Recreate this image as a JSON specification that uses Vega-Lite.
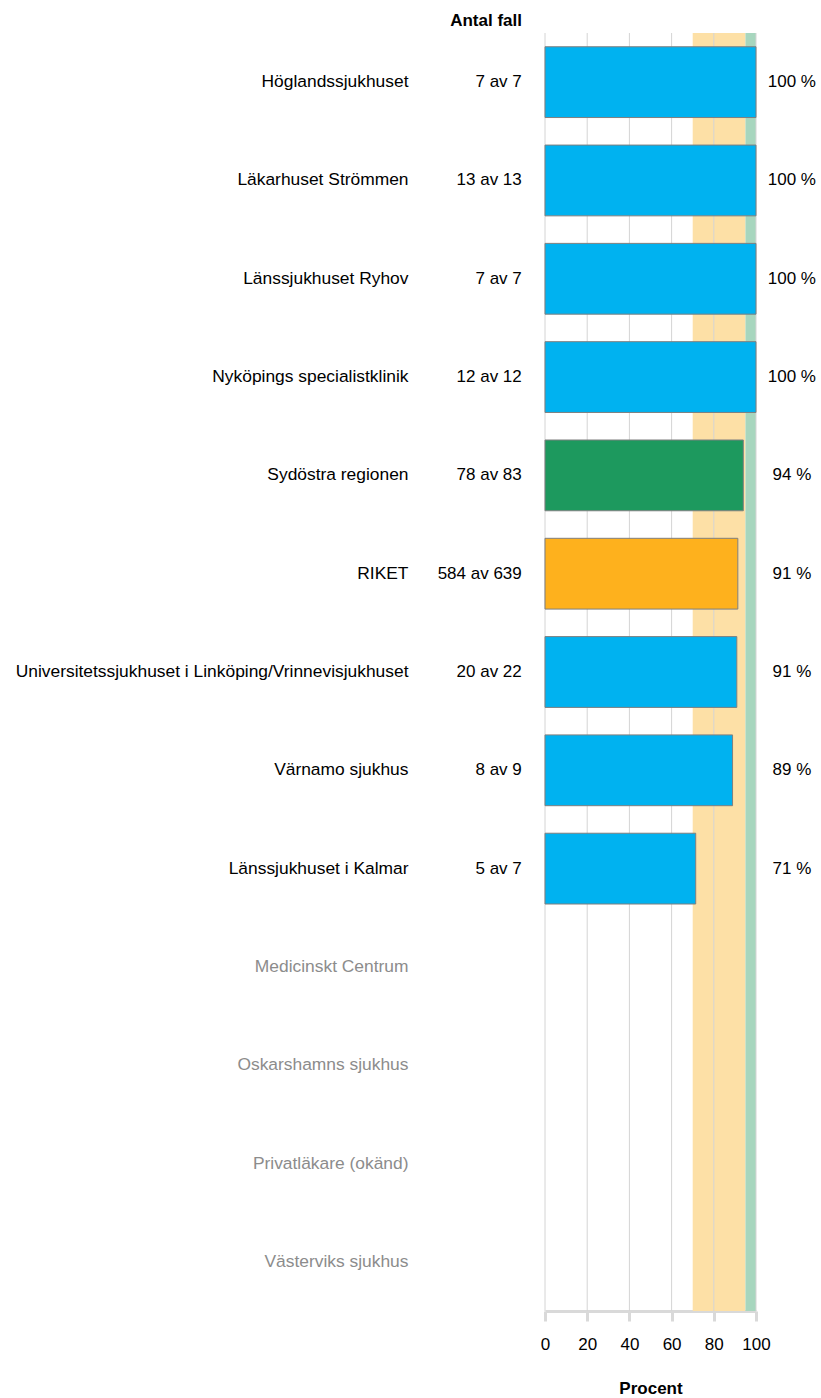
{
  "$schema": "https://vega.github.io/schema/vega-lite/v6.json",
  "autosize": {"type": "none"},
  "width": 211,
  "height": 1278,
  "padding": {"left": 545, "top": 33, "right": 65, "bottom": 87},
  "config": {
    "font": "Liberation Sans",
    "view": {"stroke": null},
    "text": {"font": "Liberation Sans", "fontSize": 17, "fill": "#000"}
  },
  "data": {
    "values": [
      {"enhet": "Höglandssjukhuset", "typ": "enhet", "andel": 100, "antal": "7 av 7", "andel_text": "100 %"},
      {"enhet": "Läkarhuset Strömmen", "typ": "enhet", "andel": 100, "antal": "13 av 13", "andel_text": "100 %"},
      {"enhet": "Länssjukhuset Ryhov", "typ": "enhet", "andel": 100, "antal": "7 av 7", "andel_text": "100 %"},
      {"enhet": "Nyköpings specialistklinik", "typ": "enhet", "andel": 100, "antal": "12 av 12", "andel_text": "100 %"},
      {"enhet": "Sydöstra regionen", "typ": "region", "andel": 93.98, "antal": "78 av 83", "andel_text": "94 %"},
      {"enhet": "RIKET", "typ": "riket", "andel": 91.39, "antal": "584 av 639", "andel_text": "91 %"},
      {"enhet": "Universitetssjukhuset i Linköping/Vrinnevisjukhuset", "typ": "enhet", "andel": 90.91, "antal": "20 av 22", "andel_text": "91 %"},
      {"enhet": "Värnamo sjukhus", "typ": "enhet", "andel": 88.89, "antal": "8 av 9", "andel_text": "89 %"},
      {"enhet": "Länssjukhuset i Kalmar", "typ": "enhet", "andel": 71.43, "antal": "5 av 7", "andel_text": "71 %"},
      {"enhet": "Medicinskt Centrum", "typ": "tom", "andel": null, "antal": "", "andel_text": ""},
      {"enhet": "Oskarshamns sjukhus", "typ": "tom", "andel": null, "antal": "", "andel_text": ""},
      {"enhet": "Privatläkare (okänd)", "typ": "tom", "andel": null, "antal": "", "andel_text": ""},
      {"enhet": "Västerviks sjukhus", "typ": "tom", "andel": null, "antal": "", "andel_text": ""}
    ]
  },
  "resolve": {"scale": {"color": "independent"}},
  "layer": [
    {
      "data": {"values": [
        {"fran": 70, "till": 95, "niva": "mellan"},
        {"fran": 95, "till": 100, "niva": "hog"}
      ]},
      "mark": {"type": "rect"},
      "encoding": {
        "x": {"field": "fran", "type": "quantitative", "scale": {"domain": [0, 100], "nice": false}},
        "x2": {"field": "till"},
        "color": {"field": "niva", "type": "nominal", "legend": null,
          "scale": {"domain": ["mellan", "hog"], "range": ["#fde0a6", "#a7d6be"]}}
      }
    },
    {
      "data": {"values": [{"v": 0}, {"v": 20}, {"v": 40}, {"v": 60}, {"v": 80}, {"v": 100}]},
      "mark": {"type": "rule", "stroke": "#d4d4d4", "strokeWidth": 1},
      "encoding": {
        "x": {"field": "v", "type": "quantitative"}
      }
    },
    {
      "mark": {"type": "bar", "stroke": "#7f7f7f", "strokeWidth": 1},
      "encoding": {
        "y": {"field": "enhet", "type": "nominal", "sort": null,
          "scale": {"paddingInner": 0.28, "paddingOuter": 0.14},
          "axis": {
            "domain": false, "ticks": false, "grid": false,
            "labelPadding": 137, "labelFontSize": 17.4, "labelLimit": 600,
            "labelFont": "Liberation Sans",
            "labelColor": {"condition": {"test": "indexof(['Medicinskt Centrum','Oskarshamns sjukhus','Privatläkare (okänd)','Västerviks sjukhus'], datum.value) >= 0", "value": "#8c8c8c"}, "value": "#000000"},
            "title": "Antal fall", "titleAngle": 0, "titleAlign": "right", "titleBaseline": "alphabetic",
            "titleX": -23.5, "titleY": -8, "titleFontSize": 17, "titleFontWeight": "bold",
            "titleFont": "Liberation Sans", "titleColor": "#000"
          }
        },
        "x": {"field": "andel", "type": "quantitative",
          "scale": {"domain": [0, 100], "nice": false},
          "axis": {
            "values": [0, 20, 40, 60, 80, 100], "grid": false,
            "labelFlush": false, "labelOverlap": false, "labelBound": false,
            "domainColor": "#d9d9d9", "domainWidth": 3,
            "tickColor": "#d9d9d9", "tickWidth": 3, "tickSize": 10,
            "labelFontSize": 17, "labelColor": "#000", "labelFont": "Liberation Sans",
            "labelBaseline": "alphabetic", "labelPadding": 28.5,
            "title": "Procent", "titleFontSize": 17, "titleFontWeight": "bold", "titleColor": "#000",
            "titleFont": "Liberation Sans", "titleBaseline": "alphabetic", "titleY": 82, "titleX": 105.5
          }
        },
        "color": {"field": "typ", "type": "nominal", "legend": null,
          "scale": {"domain": ["enhet", "region", "riket"], "range": ["#00b2f0", "#1d995e", "#feb11d"]}}
      }
    },
    {
      "mark": {"type": "text", "align": "right", "baseline": "middle"},
      "encoding": {
        "y": {"field": "enhet", "type": "nominal", "sort": null},
        "x": {"datum": -11},
        "text": {"field": "antal"}
      }
    },
    {
      "mark": {"type": "text", "align": "center", "baseline": "middle"},
      "encoding": {
        "y": {"field": "enhet", "type": "nominal", "sort": null},
        "x": {"datum": 117},
        "text": {"field": "andel_text"}
      }
    }
  ]
}
